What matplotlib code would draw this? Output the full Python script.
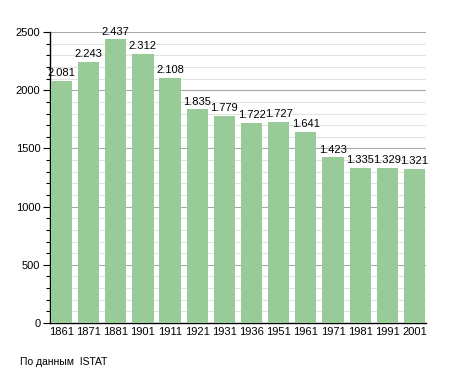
import numpy as np
import matplotlib.pyplot as plt
from matplotlib.ticker import MultipleLocator

years = ['1861', '1871', '1881', '1901', '1911', '1921', '1931',
         '1936', '1951', '1961', '1971', '1981', '1991', '2001']
population = [2081, 2243, 2437, 2312, 2108, 1835, 1779,
              1722, 1727, 1641, 1423, 1335, 1329, 1321]
labels = ['2.081', '2.243', '2.437', '2.312', '2.108', '1.835', '1.779',
          '1.722', '1.727', '1.641', '1.423', '1.335', '1.329', '1.321']

plt.rcParams['font.family'] = ['Liberation Sans', 'DejaVu Sans']

fig = plt.figure(figsize=(4.55, 3.73), dpi=100)
ax = fig.add_axes([0.110, 0.134, 0.826, 0.780])

x = np.arange(len(years))
ax.bar(x, population, width=0.78, color='#98cb98', zorder=3)

# value labels above each bar
for xi, val, lab in zip(x, population, labels):
    ax.text(xi, val + 25, lab, ha='center', va='bottom', fontsize=8, zorder=4)

ax.set_xlim(-0.42, len(years) - 0.58)
ax.set_ylim(0, 2500)
ax.yaxis.set_major_locator(MultipleLocator(500))
ax.yaxis.set_minor_locator(MultipleLocator(100))
ax.grid(axis='y', which='major', color='#a8a8a8', linewidth=0.8, zorder=1)
ax.grid(axis='y', which='minor', color='#e2e2e2', linewidth=0.8, zorder=1)

ax.set_xticks(x)
ax.set_xticklabels(years, fontsize=8)
ax.tick_params(axis='x', length=0, pad=3)
ax.tick_params(axis='y', which='major', length=5, width=0.8, labelsize=8, pad=2)
ax.tick_params(axis='y', which='minor', length=3, width=0.8)

for side in ['top', 'right']:
    ax.spines[side].set_visible(False)
ax.spines['left'].set_linewidth(1.0)
ax.spines['bottom'].set_linewidth(1.0)

fig.text(20 / 455, 1 - 362 / 373, 'По данным  ISTAT', fontsize=7.5, va='center')

fig.savefig('out.png', dpi=100)
